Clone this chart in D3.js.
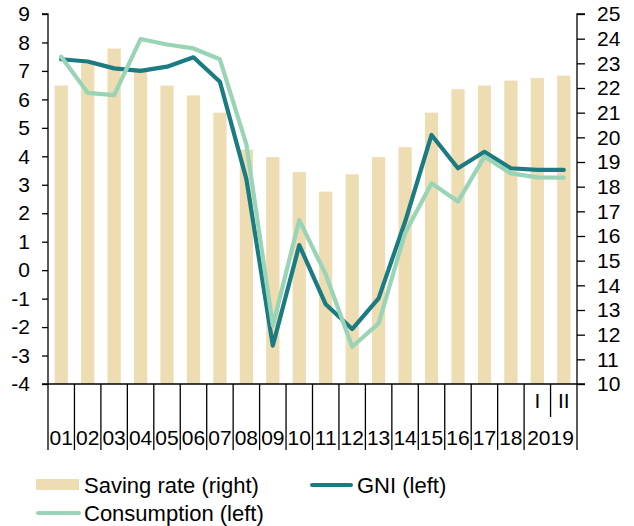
<!DOCTYPE html>
<html>
<head>
<meta charset="utf-8">
<script src="https://cdn.jsdelivr.net/npm/d3@7"></script>
<style>
  html, body { margin: 0; padding: 0; background: #fff; }
  svg { display: block; }
  text { font-family: "Liberation Sans", Arial, sans-serif; fill: #000; }
</style>
</head>
<body>
<svg id="chart" width="634" height="526"></svg>
<script>
// ---- data ----
const categories = ["01","02","03","04","05","06","07","08","09","10","11","12","13","14","15","16","17","18","I","II"];
const yearGroupLabel = "2019";
const savingRate = [22.1, 23.0, 23.6, 22.8, 22.1, 21.7, 21.0, 19.5, 19.2, 18.6, 17.8, 18.5, 19.2, 19.6, 21.0, 21.95, 22.1, 22.3, 22.4, 22.5];
const gni = [7.41, 7.33, 7.09, 7.0, 7.15, 7.48, 6.62, 3.2, -2.65, 0.88, -1.2, -2.07, -0.99, 1.7, 4.75, 3.58, 4.16, 3.58, 3.52, 3.52];
const consumption = [7.5, 6.23, 6.15, 8.12, 7.93, 7.79, 7.41, 4.42, -1.95, 1.76, -0.15, -2.69, -1.87, 1.3, 3.05, 2.41, 3.99, 3.4, 3.26, 3.25];
const leftTicks = [-4,-3,-2,-1,0,1,2,3,4,5,6,7,8,9];
const rightTicks = [10,11,12,13,14,15,16,17,18,19,20,21,22,23,24,25];
const legendLabels = ["Saving rate (right)", "GNI (left)", "Consumption (left)"];

// ---- layout ----
const L = 48, R = 577, T = 14, B = 384;
const FS = 21;
const colBar = "#EEDCB2", colGNI = "#1B7B82", colCons = "#98D4B5";

const svg = d3.select("#chart");
const x = d3.scaleBand().domain(categories).range([L, R]).paddingInner(0.5).paddingOuter(0.25);
const xb = d3.scaleLinear().domain([0, categories.length]).range([L, R]);
const yL = d3.scaleLinear().domain([-4, 9]).range([B, T]);
const yR = d3.scaleLinear().domain([10, 25]).range([B, T]);

// bars
svg.append("g").selectAll("rect").data(savingRate).join("rect")
  .attr("x", (d, i) => x(categories[i]))
  .attr("width", x.bandwidth())
  .attr("y", d => yR(d))
  .attr("height", d => yR(10) - yR(d))
  .attr("fill", colBar);

// lines
const cx = i => x(categories[i]) + x.bandwidth() / 2;
const lineL = d3.line().x((d, i) => cx(i)).y(d => yL(d));
svg.append("path").datum(gni).attr("d", lineL)
  .attr("fill", "none").attr("stroke", colGNI).attr("stroke-width", 4.2)
  .attr("stroke-linejoin", "round").attr("stroke-linecap", "round");
svg.append("path").datum(consumption).attr("d", lineL)
  .attr("fill", "none").attr("stroke", colCons).attr("stroke-width", 4.2)
  .attr("stroke-linejoin", "round").attr("stroke-linecap", "round");

// axes
const fmt = d => String(d);
const axL = svg.append("g").attr("transform", `translate(${L},0)`)
  .call(d3.axisLeft(yL).tickValues(leftTicks).tickSize(6).tickPadding(12).tickFormat(fmt));
const axR = svg.append("g").attr("transform", `translate(${R},0)`)
  .call(d3.axisRight(yR).tickValues(rightTicks).tickSize(8).tickPadding(12).tickFormat(fmt));
[axL, axR].forEach(a => {
  a.select(".domain").attr("stroke", "#000").attr("stroke-width", 1.3);
  a.selectAll(".tick line").attr("stroke", "#000").attr("stroke-width", 1.3);
  a.selectAll("text").attr("font-size", FS).attr("font-family", "Liberation Sans, Arial, sans-serif").attr("fill", "#000");
});
axL.select(".domain").attr("d", `M-6,${T}H0V${B}`);
axR.select(".domain").attr("d", `M8,${T}H0V${B}`);

// bottom axis line
svg.append("line").attr("x1", L - 6).attr("x2", R + 8).attr("y1", B).attr("y2", B)
  .attr("stroke", "#000").attr("stroke-width", 1.3);

// category separator lines
const g = svg.append("g");
d3.range(0, categories.length + 1).forEach(k => {
  const short = (k === categories.length - 1);
  g.append("line")
    .attr("x1", xb(k)).attr("x2", xb(k))
    .attr("y1", B).attr("y2", short ? 417 : 450)
    .attr("stroke", "#000").attr("stroke-width", 1.3);
});

// category labels
const n = categories.length;
categories.forEach((c, i) => {
  const isSub = i >= n - 2;
  svg.append("text")
    .attr("x", cx(i)).attr("y", isSub ? 408 : 445)
    .attr("text-anchor", "middle").attr("font-size", FS)
    .text(c);
});
svg.append("text")
  .attr("x", (xb(n - 2) + xb(n)) / 2).attr("y", 445)
  .attr("text-anchor", "middle").attr("font-size", FS)
  .text(yearGroupLabel);

// legend
const lg = svg.append("g");
lg.append("rect").attr("x", 36).attr("y", 479).attr("width", 43).attr("height", 11).attr("fill", colBar);
lg.append("text").attr("x", 84).attr("y", 485).attr("dy", "0.35em").attr("font-size", 22).text(legendLabels[0]);
lg.append("line").attr("x1", 312).attr("x2", 351).attr("y1", 485).attr("y2", 485)
  .attr("stroke", colGNI).attr("stroke-width", 4).attr("stroke-linecap", "round");
lg.append("text").attr("x", 357).attr("y", 485).attr("dy", "0.35em").attr("font-size", 22).text(legendLabels[1]);
lg.append("line").attr("x1", 38).attr("x2", 79).attr("y1", 513).attr("y2", 513)
  .attr("stroke", colCons).attr("stroke-width", 4).attr("stroke-linecap", "round");
lg.append("text").attr("x", 84).attr("y", 513).attr("dy", "0.35em").attr("font-size", 22).text(legendLabels[2]);
</script>
</body>
</html>
